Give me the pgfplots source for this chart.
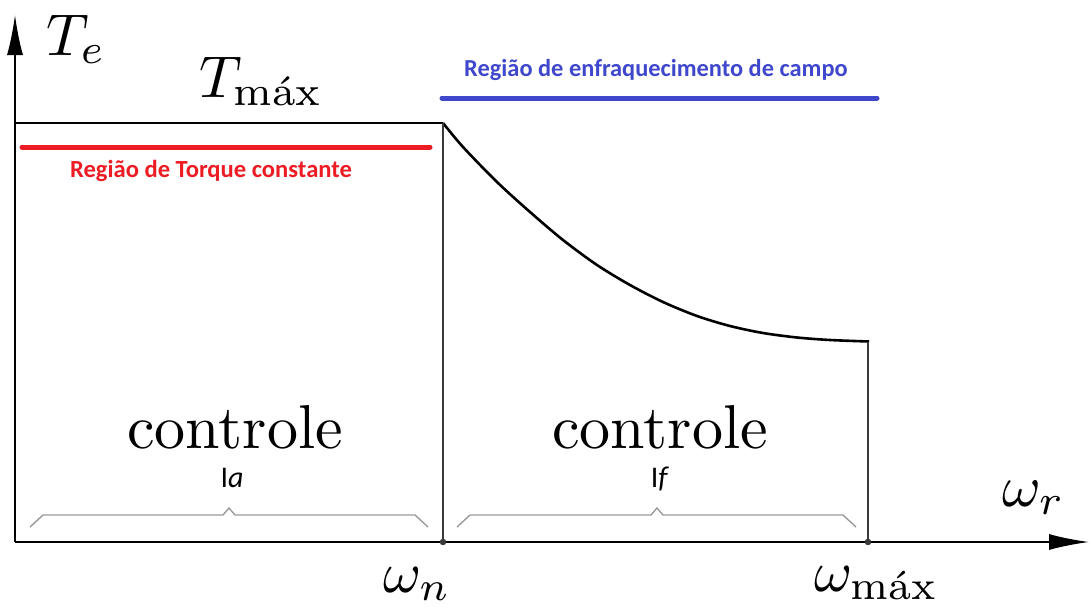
\documentclass[border=0pt]{standalone}
\usepackage{fontspec}
\usepackage{pgfplots}
\pgfplotsset{compat=1.18}
\usetikzlibrary{arrows.meta}
\newfontfamily\calibri{Carlito}
\definecolor{paintred}{HTML}{ED1C24}
\definecolor{paintblue}{HTML}{3F48CC}
\definecolor{axgray}{HTML}{3A3A3A}
\definecolor{bracegray}{HTML}{9A9A9A}

\begin{document}
\begin{tikzpicture}
\begin{axis}[
  scale only axis, width=1091pt, height=608pt,
  xmin=0, xmax=1091, ymin=0, ymax=608, y dir=reverse,
  hide axis, clip=false]
% frame of the drawing area
\addplot[draw=none] coordinates {(0,0) (1091,608)};
% axes with arrows
\addplot[line width=1.6pt, color=black, -{Latex[length=40pt,width=16pt]}] coordinates {(15,542) (1089,542)};
\addplot[line width=1.6pt, color=black, -{Latex[length=40pt,width=16pt]}] coordinates {(15,542) (15,15)};
% torque-speed characteristic
\addplot[line width=2.6pt, color=black] coordinates {(15,123) (443,123)};
\addplot[line width=2.6pt, color=black, smooth] coordinates {
  (443,123) (463,147) (497,182) (530,212) (563,240) (597,265) (630,285)
  (663,302) (697,316) (730,326) (763,333) (797,337.5) (830,340) (869,341.5)};
\addplot[line width=1.5pt, color=axgray] coordinates {(443,123) (443,542)};
\addplot[line width=1.5pt, color=axgray] coordinates {(868,341.5) (868,542)};
\addplot[only marks, mark=*, mark size=3pt, color=axgray] coordinates {(443,542) (868,542)};
% region bars
\addplot[line width=5pt, color=paintred, line cap=round] coordinates {(22,147) (430,147)};
\addplot[line width=5pt, color=paintblue, line cap=round] coordinates {(442,98) (877,98)};
% braces
\addplot[line width=1.4pt, color=bracegray] coordinates {
  (30,527) (43,515) (223,515) (229,508) (235,515) (415,515) (428,527)};
\addplot[line width=1.4pt, color=bracegray] coordinates {
  (457,527) (470,515) (651,515) (657,508) (663,515) (843,515) (856,527)};
% labels
\node[anchor=base, color=paintred, inner sep=0pt] at (axis cs:211,177)
  {\calibri\bfseries\fontsize{24.6}{28}\selectfont Região de Torque constante};
\node[anchor=base, color=paintblue, inner sep=0pt] at (axis cs:656,76)
  {\calibri\bfseries\fontsize{24.4}{28}\selectfont Região de enfraquecimento de campo};
\node[anchor=base west, inner sep=0pt, scale=5.9] at (axis cs:45,55) {$T_e$};
\node[anchor=base west, inner sep=0pt, scale=5.9] at (axis cs:198,97) {$T_{\mathrm{máx}}$};
\node[anchor=base west, inner sep=0pt, scale=5.8] at (axis cs:382,592) {$\omega_n$};
\node[anchor=base west, inner sep=0pt, scale=5.8] at (axis cs:813,591) {$\omega_{\mathrm{máx}}$};
\node[anchor=base west, inner sep=0pt, scale=5.9] at (axis cs:1001,506) {$\omega_r$};
\node[anchor=base, inner sep=0pt, scale=6.2] at (axis cs:235,448) {controle};
\node[anchor=base, inner sep=0pt, scale=6.2] at (axis cs:660,448) {controle};
\node[anchor=base, inner sep=0pt] at (axis cs:232,487)
  {\calibri\fontsize{30}{34}\selectfont I\textit{a}};
\node[anchor=base, inner sep=0pt] at (axis cs:660,487)
  {\calibri\fontsize{30}{34}\selectfont I\textit{f}};
\end{axis}
\end{tikzpicture}
\end{document}
